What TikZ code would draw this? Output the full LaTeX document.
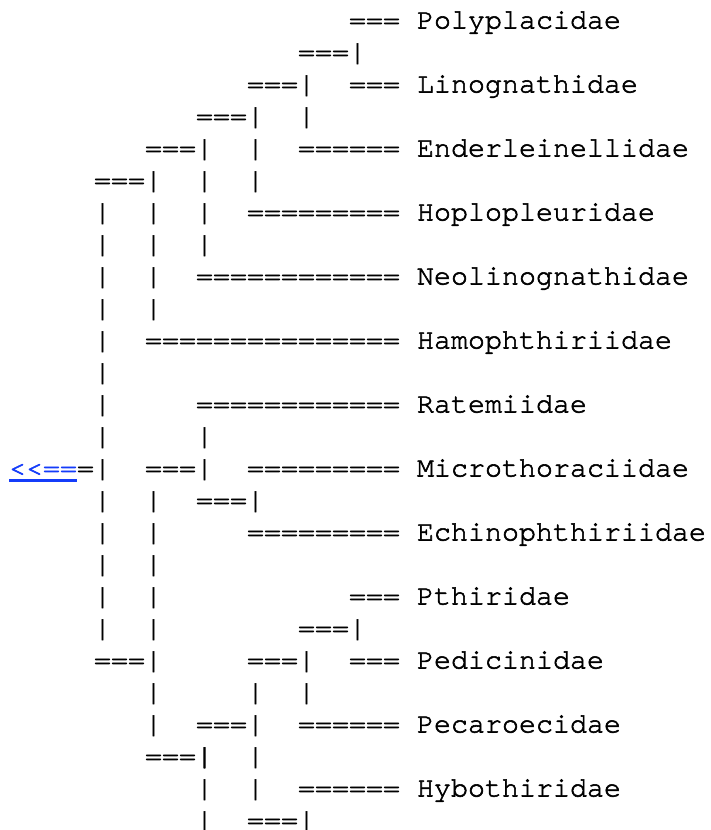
\documentclass[tikz,border=0pt]{standalone}
\usepackage{fontspec}
\newfontfamily\asciifont[FakeBold=2]{TeX Gyre Cursor}
\definecolor{linkblue}{RGB}{20,60,250}
\tikzset{
  asc/.style={anchor=base west, inner sep=0pt, outer sep=0pt,
    font=\asciifont\fontsize{28.33pt}{32pt}\selectfont, text=black},
  lnk/.style={asc, text=linkblue},
  uline/.style={draw=linkblue, line width=2.5pt}
}
\newcommand\ct[4]{\node[asc] (#1) at (#2,#3) {#4};}
\begin{document}
\begin{tikzpicture}
\useasboundingbox (0,0) rectangle (711pt,830pt);
\begin{scope}[shift={(9pt,801.5pt)}, x=17pt, y=-32pt]
% line 1
\ct{l1a}{20}{0}{===}\ct{l1n}{24}{0}{Polyplacidae}
% line 2
\ct{l2a}{17}{1}{===|}
% line 3
\ct{l3a}{14}{2}{===|}\ct{l3b}{20}{2}{===}\ct{l3n}{24}{2}{Linognathidae}
% line 4
\ct{l4a}{11}{3}{===|}\ct{l4b}{17}{3}{|}
% line 5
\ct{l5a}{8}{4}{===|}\ct{l5b}{14}{4}{|}\ct{l5c}{17}{4}{======}\ct{l5n}{24}{4}{Enderleinellidae}
% line 6
\ct{l6a}{5}{5}{===|}\ct{l6b}{11}{5}{|}\ct{l6c}{14}{5}{|}
% line 7
\ct{l7a}{5}{6}{|}\ct{l7b}{8}{6}{|}\ct{l7c}{11}{6}{|}\ct{l7d}{14}{6}{=========}\ct{l7n}{24}{6}{Hoplopleuridae}
% line 8
\ct{l8a}{5}{7}{|}\ct{l8b}{8}{7}{|}\ct{l8c}{11}{7}{|}
% line 9
\ct{l9a}{5}{8}{|}\ct{l9b}{8}{8}{|}\ct{l9c}{11}{8}{============}\ct{l9n}{24}{8}{Neolinognathidae}
% line 10
\ct{l10a}{5}{9}{|}\ct{l10b}{8}{9}{|}
% line 11
\ct{l11a}{5}{10}{|}\ct{l11b}{8}{10}{===============}\ct{l11n}{24}{10}{Hamophthiriidae}
% line 12
\ct{l12a}{5}{11}{|}
% line 13
\ct{l13a}{5}{12}{|}\ct{l13b}{11}{12}{============}\ct{l13n}{24}{12}{Ratemiidae}
% line 14
\ct{l14a}{5}{13}{|}\ct{l14b}{11}{13}{|}
% line 15
\node[lnk] (lk) at (0,14) {<<==};
\ct{l15a}{4}{14}{=|}\ct{l15b}{8}{14}{===|}\ct{l15c}{14}{14}{=========}\ct{l15n}{24}{14}{Microthoraciidae}
\path[uline] ([yshift=-3.8pt]lk.base west) -- ([yshift=-3.8pt]lk.base east);
% line 16
\ct{l16a}{5}{15}{|}\ct{l16b}{8}{15}{|}\ct{l16c}{11}{15}{===|}
% line 17
\ct{l17a}{5}{16}{|}\ct{l17b}{8}{16}{|}\ct{l17c}{14}{16}{=========}\ct{l17n}{24}{16}{Echinophthiriidae}
% line 18
\ct{l18a}{5}{17}{|}\ct{l18b}{8}{17}{|}
% line 19
\ct{l19a}{5}{18}{|}\ct{l19b}{8}{18}{|}\ct{l19c}{20}{18}{===}\ct{l19n}{24}{18}{Pthiridae}
% line 20
\ct{l20a}{5}{19}{|}\ct{l20b}{8}{19}{|}\ct{l20c}{17}{19}{===|}
% line 21
\ct{l21a}{5}{20}{===|}\ct{l21b}{14}{20}{===|}\ct{l21c}{20}{20}{===}\ct{l21n}{24}{20}{Pedicinidae}
% line 22
\ct{l22a}{8}{21}{|}\ct{l22b}{14}{21}{|}\ct{l22c}{17}{21}{|}
% line 23
\ct{l23a}{8}{22}{|}\ct{l23b}{11}{22}{===|}\ct{l23c}{17}{22}{======}\ct{l23n}{24}{22}{Pecaroecidae}
% line 24
\ct{l24a}{8}{23}{===|}\ct{l24b}{11}{23}{|}\ct{l24c}{14}{23}{|}
% line 25
\ct{l25a}{11}{24}{|}\ct{l25b}{14}{24}{|}\ct{l25c}{17}{24}{======}\ct{l25n}{24}{24}{Hybothiridae}
% line 26
\ct{l26a}{11}{25}{|}\ct{l26b}{14}{25}{===|}
\end{scope}
\end{tikzpicture}
\end{document}
